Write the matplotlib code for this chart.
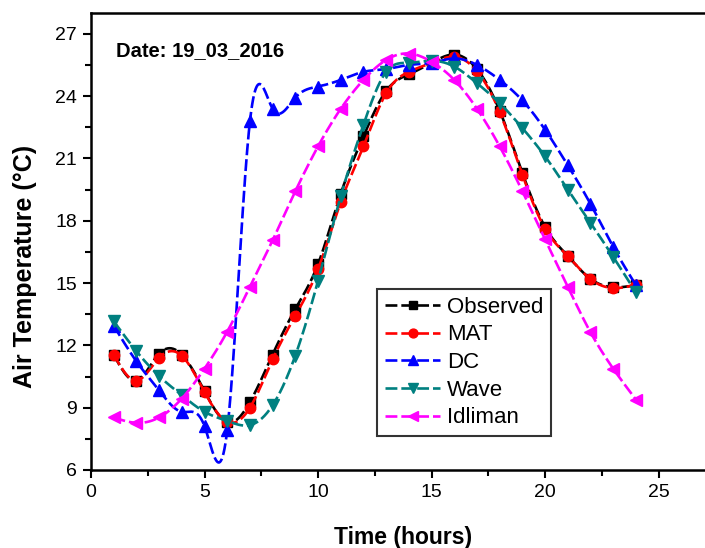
import numpy as np
import matplotlib
matplotlib.use("Agg")
import matplotlib.pyplot as plt
from matplotlib.ticker import MultipleLocator

hours = list(range(1, 25))
observed = [11.55, 10.3, 11.6, 11.55, 9.8, 8.3, 9.27, 11.56, 13.75, 15.91, 19.3, 22.06,
            24.25, 25.05, 25.6, 26.0, 25.3, 23.3, 20.3, 17.7, 16.3, 15.2, 14.8, 14.9]
mat = [11.55, 10.3, 11.4, 11.5, 9.75, 8.32, 9.0, 11.32, 13.43, 15.67, 18.9, 21.58,
       24.14, 25.17, 25.6, 25.89, 25.2, 23.23, 20.22, 17.62, 16.3, 15.19, 14.76, 14.92]
dc = [12.95, 11.23, 9.83, 8.8, 8.11, 7.92, 22.78, 23.39, 23.93, 24.46, 24.78, 25.17,
      25.3, 25.5, 25.6, 25.81, 25.5, 24.78, 23.79, 22.38, 20.67, 18.81, 16.74, 14.9]
wave = [13.16, 11.72, 10.52, 9.6, 8.8, 8.36, 8.16, 9.12, 11.51, 15.11, 19.18, 22.62,
        25.17, 25.6, 25.7, 25.42, 24.62, 23.66, 22.46, 21.1, 19.5, 17.9, 16.26, 14.55]
idliman = [8.53, 8.27, 8.53, 9.44, 10.88, 12.66, 14.82, 17.06, 19.42, 21.58, 23.39, 24.78,
           25.74, 26.05, 25.65, 24.78, 23.39, 21.58, 19.42, 17.1, 14.82, 12.63, 10.88, 9.39]

series_names = ["Observed", "MAT", "DC", "Wave", "Idliman"]
series_values = [observed, mat, dc, wave, idliman]
x_ticks = [0, 5, 10, 15, 20, 25]
y_ticks = [6, 9, 12, 15, 18, 21, 24, 27]


def natural_spline(x, y, n=600):
    x = np.asarray(x, float)
    y = np.asarray(y, float)
    k = len(x)
    h = np.diff(x)
    A = np.zeros((k, k))
    b = np.zeros(k)
    A[0, 0] = 1
    A[-1, -1] = 1
    for i in range(1, k - 1):
        A[i, i - 1] = h[i - 1]
        A[i, i] = 2 * (h[i - 1] + h[i])
        A[i, i + 1] = h[i]
        b[i] = 6 * ((y[i + 1] - y[i]) / h[i] - (y[i] - y[i - 1]) / h[i - 1])
    M = np.linalg.solve(A, b)
    xs = np.linspace(x[0], x[-1], n)
    idx = np.clip(np.searchsorted(x, xs) - 1, 0, k - 2)
    x0, x1 = x[idx], x[idx + 1]
    hh = x1 - x0
    t0 = x1 - xs
    t1 = xs - x0
    ys = (M[idx] * t0 ** 3 / (6 * hh) + M[idx + 1] * t1 ** 3 / (6 * hh)
          + (y[idx] / hh - M[idx] * hh / 6) * t0
          + (y[idx + 1] / hh - M[idx + 1] * hh / 6) * t1)
    return xs, ys


plt.rcParams['font.family'] = ['Liberation Sans', 'DejaVu Sans']

fig = plt.figure(figsize=(7.05, 5.48), dpi=100)
ax = fig.add_axes([91 / 705, 1 - 470 / 548, (704 - 91) / 705, (470 - 13) / 548])

colors = ["#000000", "#FF0000", "#0000FF", "#008080", "#FF00FF"]
markers = ["s", "o", "^", "v", "<"]
msizes = [6.5, 7.5, 8.5, 8.5, 8.5]

for name, vals, c, m, ms in zip(series_names, series_values, colors, markers, msizes):
    xs, ys = natural_spline(hours, vals)
    ax.plot(xs, ys, color=c, lw=1.9, dashes=(4.5, 1.5))
    ax.plot(hours, vals, linestyle='none', marker=m, color=c, markersize=ms)
    ax.plot([], [], color=c, lw=1.9, dashes=(4.5, 1.5), marker=m, markersize=ms * 0.85, label=name)

ax.set_xlim(0, 27)
ax.set_ylim(6, 28)
ax.set_xticks(x_ticks)
ax.set_yticks(y_ticks)
ax.xaxis.set_minor_locator(MultipleLocator(2.5))
ax.yaxis.set_minor_locator(MultipleLocator(1.5))
ax.tick_params(which='major', direction='out', length=6, width=1.5, labelsize=14, pad=4)
ax.tick_params(which='minor', direction='out', length=4, width=1.5)
for s in ['left', 'bottom', 'top']:
    ax.spines[s].set_linewidth(1.8)
ax.spines['right'].set_visible(False)

ax.set_xlabel("Time (hours)", fontsize=16.5, fontweight='bold')
ax.xaxis.set_label_coords((403 - 91) / 613, -(526 - 470) / 457)
ax.set_ylabel("Air Temperature (°C)", fontsize=18, fontweight='bold')
ax.yaxis.set_label_coords((37 - 91) / 613, (470 - 266) / 457)

ax.text(1.1, 26.2, "Date: 19_03_2016", fontsize=14.5, fontweight='bold', va='center', ha='left')

leg = ax.legend(loc='upper left', bbox_to_anchor=((377 - 91) / 613, 1 - (289 - 13) / 457),
                fontsize=16, frameon=True, fancybox=False, edgecolor='black',
                handlelength=2.5, handletextpad=0.3, borderpad=0.35, labelspacing=0.3,
                borderaxespad=0)
leg.get_frame().set_linewidth(1.5)

fig.savefig("out.png", dpi=100)
